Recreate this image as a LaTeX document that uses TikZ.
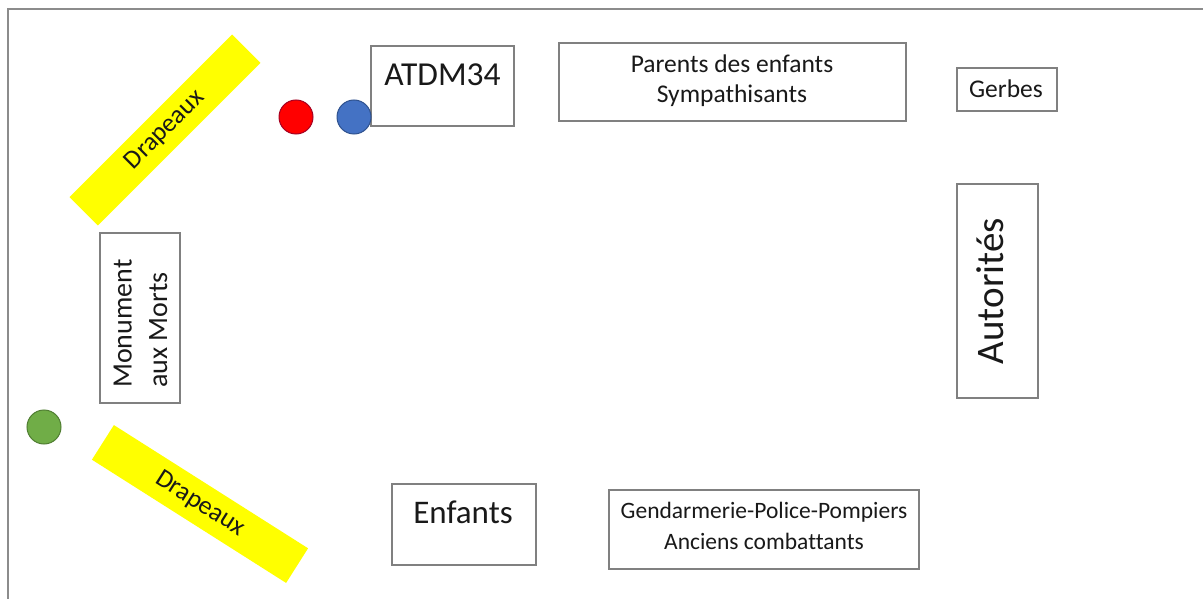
\documentclass[tikz,border=0pt]{standalone}
\usepackage{fontspec}
\setmainfont{Carlito}[Ligatures={NoCommon}]
\definecolor{boxgray}{HTML}{808080}
\definecolor{framegray}{HTML}{8C8C8C}
\definecolor{flagyellow}{HTML}{FFFF00}
\definecolor{dotred}{HTML}{FF0000}
\definecolor{dotredline}{HTML}{A50021}
\definecolor{dotblue}{HTML}{4472C4}
\definecolor{dotblueline}{HTML}{2F528F}
\definecolor{dotgreen}{HTML}{70AD47}
\definecolor{dotgreenline}{HTML}{507E32}
\begin{document}
\begin{tikzpicture}[x=1pt,y=-1pt,
  box/.style={draw=boxgray, line width=1.3pt, fill=white, inner sep=0pt, rectangle},
  txt/.style={inner sep=0pt, text=black!90},
  flag/.style={fill=flagyellow, inner sep=0pt, rectangle, font=\fontsize{26}{31}\selectfont, text=black!90},
  dot/.style={circle, minimum size=34pt, inner sep=0pt, line width=1pt}]
\useasboundingbox (0,0) rectangle (1203,599);
\fill[white] (0,0) rectangle (1203,599);
% frame
\coordinate (tl) at (8,9);
\coordinate (tr) at (1203,9);
\coordinate (bl) at (8,599);
\draw[framegray, line width=1.5pt] (tr) -- (tl) -- (bl);
% flags
\node[flag, rotate=45, minimum width=230pt, minimum height=40pt] (drapA) at (165,130) {Drapeaux};
\node[flag, rotate=-32.4, minimum width=230pt, minimum height=41pt] (drapB) at (200,504) {Drapeaux};
% boxes
\node[box, minimum width=143pt, minimum height=80pt] (atdm) at (442.5,86) {};
\node[txt, anchor=base, font=\fontsize{33.5}{40}\selectfont] (atdmtxt) at (442.5,86) {ATDM34};
\node[box, minimum width=347pt, minimum height=78pt] (parents) at (732.5,82) {};
\node[txt, align=center, font=\fontsize{25.5}{30}\selectfont] (parentstxt) at (732,80.5) {Parents des enfants\\Sympathisants};
\node[box, minimum width=100pt, minimum height=43pt] (gerbes) at (1007,89.5) {};
\node[txt, anchor=base, font=\fontsize{25.5}{30}\selectfont] (gerbestxt) at (1006,98) {Gerbes};
\node[box, minimum width=81pt, minimum height=214pt] (autor) at (997.5,291) {};
\node[txt, rotate=90, anchor=base, font=\fontsize{39}{46}\selectfont] (autortxt) at (1003,291) {Autorités};
\node[box, minimum width=80pt, minimum height=170pt] (monu) at (140,318) {};
\node[txt, rotate=90, anchor=west, align=left, font=\fontsize{28}{35.6}\selectfont] (monutxt) at (140.5,388) {Monument\\aux Morts};
\node[box, minimum width=144pt, minimum height=81pt] (enf) at (464,524.5) {};
\node[txt, anchor=base, font=\fontsize{33}{40}\selectfont] (enftxt) at (463,523) {Enfants};
\node[box, minimum width=310pt, minimum height=79pt] (gend) at (764,529.5) {};
\node[txt, align=center, font=\fontsize{23.5}{31}\selectfont] (gendtxt) at (764,526) {Gendarmerie-Police-Pompiers\\Anciens combattants};
% dots
\node[dot, fill=dotred, draw=dotredline] (reddot) at (296,117) {};
\node[dot, fill=dotblue, draw=dotblueline] (bluedot) at (354,117) {};
\node[dot, fill=dotgreen, draw=dotgreenline] (greendot) at (44,427) {};
\end{tikzpicture}
\end{document}
